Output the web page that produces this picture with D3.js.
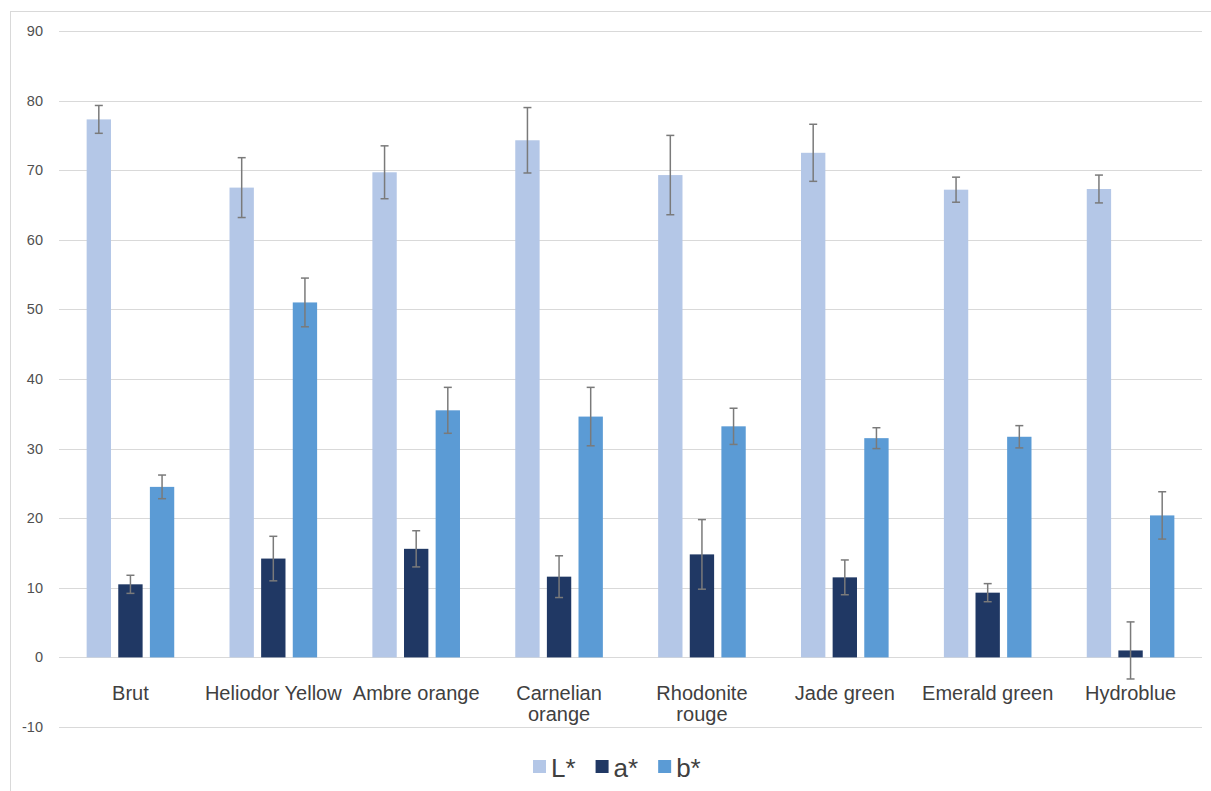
<!DOCTYPE html>
<html>
<head>
<meta charset="utf-8">
<script src="https://cdn.jsdelivr.net/npm/d3@7"></script>
<style>
  html, body { margin: 0; padding: 0; background: #ffffff; }
  svg { display: block; font-family: "Liberation Sans", Arial, Helvetica, sans-serif; }
</style>
</head>
<body>
<svg id="chart" width="1211" height="791"></svg>
<script>
// ---- data ----
const categories = ["Brut", "Heliodor Yellow", "Ambre orange", "Carnelian\norange", "Rhodonite\nrouge", "Jade green", "Emerald green", "Hydroblue"];
const seriesNames = ["L*", "a*", "b*"];
const seriesColors = ["#b4c7e7", "#203864", "#5b9bd5"];
const Lvalues = [77.3, 67.5, 69.7, 74.3, 69.3, 72.5, 67.2, 67.3];
const Lerrors = [2.0, 4.3, 3.8, 4.7, 5.7, 4.1, 1.8, 2.0];
const avalues = [10.5, 14.2, 15.6, 11.6, 14.8, 11.5, 9.3, 1.0];
const aerrors = [1.3, 3.2, 2.6, 3.0, 5.0, 2.5, 1.3, 4.1];
const bvalues = [24.5, 51.0, 35.5, 34.6, 33.2, 31.5, 31.7, 20.4];
const berrors = [1.7, 3.5, 3.3, 4.2, 2.6, 1.5, 1.6, 3.4];
const yTicks = [-10, 0, 10, 20, 30, 40, 50, 60, 70, 80, 90];

const seriesValues = [Lvalues, avalues, bvalues];
const seriesErrors = [Lerrors, aerrors, berrors];

const svg = d3.select("#chart");

// frame
svg.append("rect")
  .attr("x", 10.5).attr("y", 11.5)
  .attr("width", 1230).attr("height", 800)
  .attr("fill", "#ffffff").attr("stroke", "#d9d9d9").attr("stroke-width", 1);

const x = d3.scaleBand().domain(categories).range([59, 1202]).paddingInner(0).paddingOuter(0);
const xSub = d3.scaleBand().domain(seriesNames).range([-43.8, 43.8]).paddingInner(0.23).paddingOuter(0);
const y = d3.scaleLinear().domain([-10, 90]).range([727, 31]);

// gridlines
svg.append("g").selectAll("line").data(yTicks).join("line")
  .attr("x1", 59).attr("x2", 1202)
  .attr("y1", d => Math.round(y(d)) + 0.5).attr("y2", d => Math.round(y(d)) + 0.5)
  .attr("stroke", "#d9d9d9").attr("stroke-width", 1.2);

// y axis labels
svg.append("g").selectAll("text").data(yTicks).join("text")
  .attr("x", 43).attr("y", d => y(d))
  .attr("dy", "0.35em")
  .attr("text-anchor", "end")
  .attr("font-size", 14.5)
  .attr("fill", "#505050")
  .text(d => d);

// bars
const rows = [];
categories.forEach((c, i) => {
  seriesNames.forEach((s, j) => {
    rows.push({ cat: c, series: s, color: seriesColors[j], value: seriesValues[j][i], err: seriesErrors[j][i] });
  });
});

const barsG = svg.append("g");
barsG.selectAll("rect").data(rows).join("rect")
  .attr("x", d => x(d.cat) + x.bandwidth() / 2 + xSub(d.series))
  .attr("width", xSub.bandwidth())
  .attr("y", d => Math.min(y(d.value), y(0)))
  .attr("height", d => Math.abs(y(0) - y(d.value)))
  .attr("fill", d => d.color);

// error bars
const errG = svg.append("g").attr("stroke", "#7a7a7a").attr("stroke-width", 1.5);
rows.forEach(d => {
  const cx = x(d.cat) + x.bandwidth() / 2 + xSub(d.series) + xSub.bandwidth() / 2;
  const yt = y(d.value + d.err), yb = y(d.value - d.err);
  errG.append("line").attr("x1", cx).attr("x2", cx).attr("y1", yt).attr("y2", yb);
  errG.append("line").attr("x1", cx - 4).attr("x2", cx + 4).attr("y1", yt).attr("y2", yt);
  errG.append("line").attr("x1", cx - 4).attr("x2", cx + 4).attr("y1", yb).attr("y2", yb);
});

// category labels
const catG = svg.append("g");
categories.forEach(c => {
  const t = catG.append("text")
    .attr("x", x(c) + x.bandwidth() / 2)
    .attr("y", 700)
    .attr("text-anchor", "middle")
    .attr("font-size", 20)
    .attr("fill", "#404040");
  c.split("\n").forEach((line, k) => {
    t.append("tspan").attr("x", x(c) + x.bandwidth() / 2).attr("dy", k === 0 ? 0 : 21).text(line);
  });
});

// legend
const legG = svg.append("g");
let lx = 533;
seriesNames.forEach((s, j) => {
  legG.append("rect").attr("x", lx).attr("y", 760).attr("width", 13).attr("height", 13).attr("fill", seriesColors[j]);
  const t = legG.append("text").attr("x", lx + 18).attr("y", 777)
    .attr("font-size", 26).attr("fill", "#404040").text(s);
  lx += 18 + t.node().getComputedTextLength() + 20;
});
</script>
</body>
</html>
